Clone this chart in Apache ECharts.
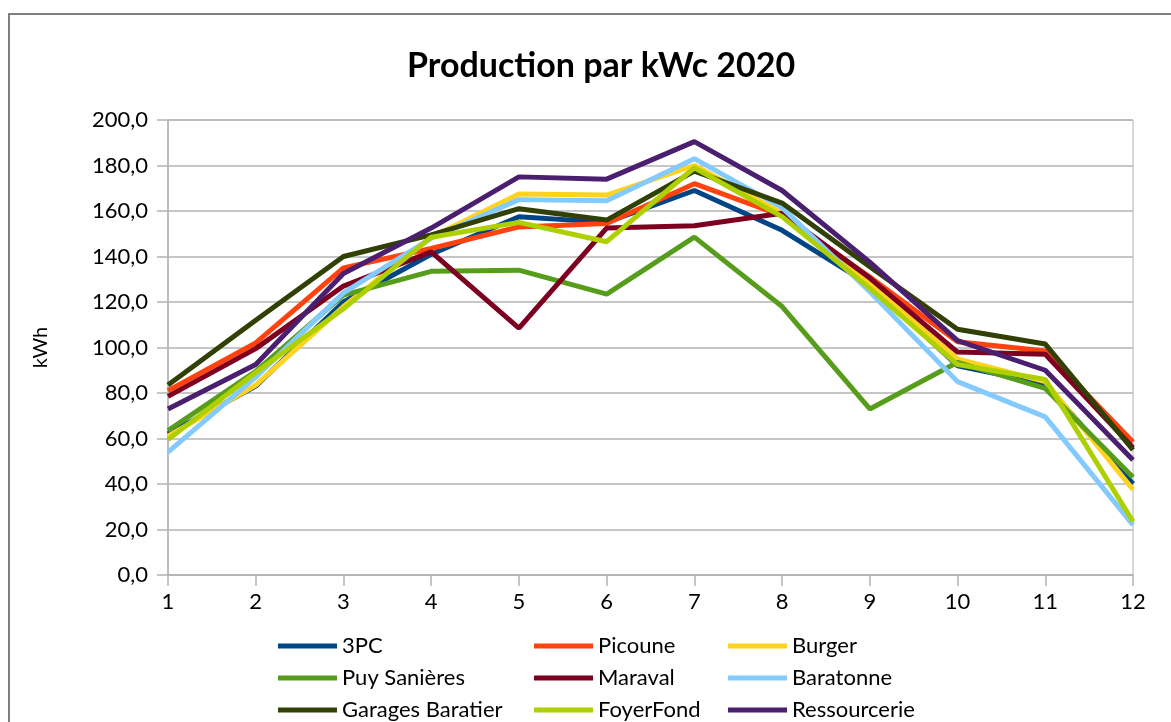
<!DOCTYPE html>
<html>
<head>
<meta charset="utf-8">
<script src="https://cdn.jsdelivr.net/npm/echarts@6/dist/echarts.min.js"></script>
<style>
  html, body { margin: 0; padding: 0; background: #fff; }
  #main { width: 1171px; height: 722px; }
</style>
</head>
<body>
<div id="main"></div>
<script>
// mois
const months = ["1", "2", "3", "4", "5", "6", "7", "8", "9", "10", "11", "12"];

// production par site (kWh / kWc)
const s3PC         = [62, 83, 120, 141, 157.5, 155, 169, 151.5, 127.5, 92, 84, 40];
const picoune      = [81, 102, 135, 143.5, 153, 154.5, 172, 158, 131, 102.5, 98.5, 58.5];
const burger       = [61, 83.5, 118, 148.5, 167.5, 167, 180, 159, 128, 95, 85, 37.5];
const puySanieres  = [63.5, 89.5, 123, 133.5, 134, 123.5, 148.5, 118, 73, 93.5, 82, 43];
const maraval      = [78.5, 99.5, 127, 142, 108.5, 152.5, 153.5, 159, 130.5, 98, 97, 56];
const baratonne    = [54, 87, 124, 148, 165, 164.5, 183, 161.5, 124.5, 85, 69.5, 22];
const garages      = [83.5, 112, 140, 149.5, 161, 156, 177.5, 163.5, 135.5, 108, 101.5, 55];
const foyerFond    = [59.5, 89, 117, 148.5, 155, 146.5, 179, 157.5, 126, 92.5, 86, 23.5];
const ressourcerie = [73, 92.5, 132.5, 152.5, 175, 174, 190.5, 169, 137.5, 103, 90, 50.5];

const names  = ["3PC", "Picoune", "Burger", "Puy Sanières", "Maraval", "Baratonne", "Garages Baratier", "FoyerFond", "Ressourcerie"];
const values = [s3PC, picoune, burger, puySanieres, maraval, baratonne, garages, foyerFond, ressourcerie];
const colors = ["#004586", "#ff420e", "#ffd320", "#579d1c", "#7e0021", "#83caff", "#314004", "#aecf00", "#4b1f6f"];

const font = "Lato, 'Open Sans', sans-serif";
const myChart = echarts.init(document.getElementById("main"));

// une colonne de légende (3 lignes)
function legendCol(idx, left) {
  return {
    orient: "vertical",
    left: left,
    top: 630,
    height: 100,
    itemGap: 10,
    itemWidth: 59,
    itemHeight: 5,
    icon: "rect",
    data: idx.map(i => names[i]),
    textStyle: { fontFamily: font, fontSize: 22, lineHeight: 22, color: "#000" },
  };
}

const option = {
  animation: false,
  color: colors,
  title: {
    text: "Production par kWc 2020",
    left: 402,
    top: 44,
    textStyle: { fontFamily: font, fontSize: 34, fontWeight: "bold", color: "#000" },
  },
  legend: [legendCol([0, 3, 6], 273), legendCol([1, 4, 7], 529), legendCol([2, 5, 8], 723)],
  graphic: [
    {
      type: "rect",
      shape: { x: 9, y: 14, width: 1250, height: 800 },
      style: { fill: "none", stroke: "#555", lineWidth: 1.5 },
      z: -1,
    },
  ],
  grid: {
    left: 168,
    right: 38,
    top: 120,
    bottom: 147,
    show: true,
    borderColor: "#b3b3b3",
    borderWidth: 1,
  },
  xAxis: {
    type: "category",
    boundaryGap: false,
    data: months,
    axisLine: { lineStyle: { color: "#b3b3b3", width: 1.5 } },
    axisTick: { show: true, length: 11, lineStyle: { color: "#b3b3b3", width: 1.5 } },
    axisLabel: { fontFamily: font, fontSize: 22, color: "#000", margin: 16 },
  },
  yAxis: {
    type: "value",
    min: 0,
    max: 200,
    interval: 20,
    name: "kWh",
    nameLocation: "middle",
    nameGap: 117,
    nameTextStyle: { fontFamily: font, fontSize: 20, color: "#000" },
    axisLine: { show: true, lineStyle: { color: "#b3b3b3", width: 1.5 } },
    axisTick: { show: true, length: 11, lineStyle: { color: "#b3b3b3", width: 1.5 } },
    axisLabel: {
      fontFamily: font,
      fontSize: 22,
      color: "#000",
      margin: 20,
      formatter: v => v.toFixed(1).replace(".", ","),
    },
    splitLine: { lineStyle: { color: "#b3b3b3", width: 1.5 } },
  },
  series: names.map((n, i) => ({
    name: n,
    type: "line",
    data: values[i],
    symbol: "none",
    lineStyle: { width: 5, color: colors[i] },
  })),
};

myChart.setOption(option);
</script>
</body>
</html>
